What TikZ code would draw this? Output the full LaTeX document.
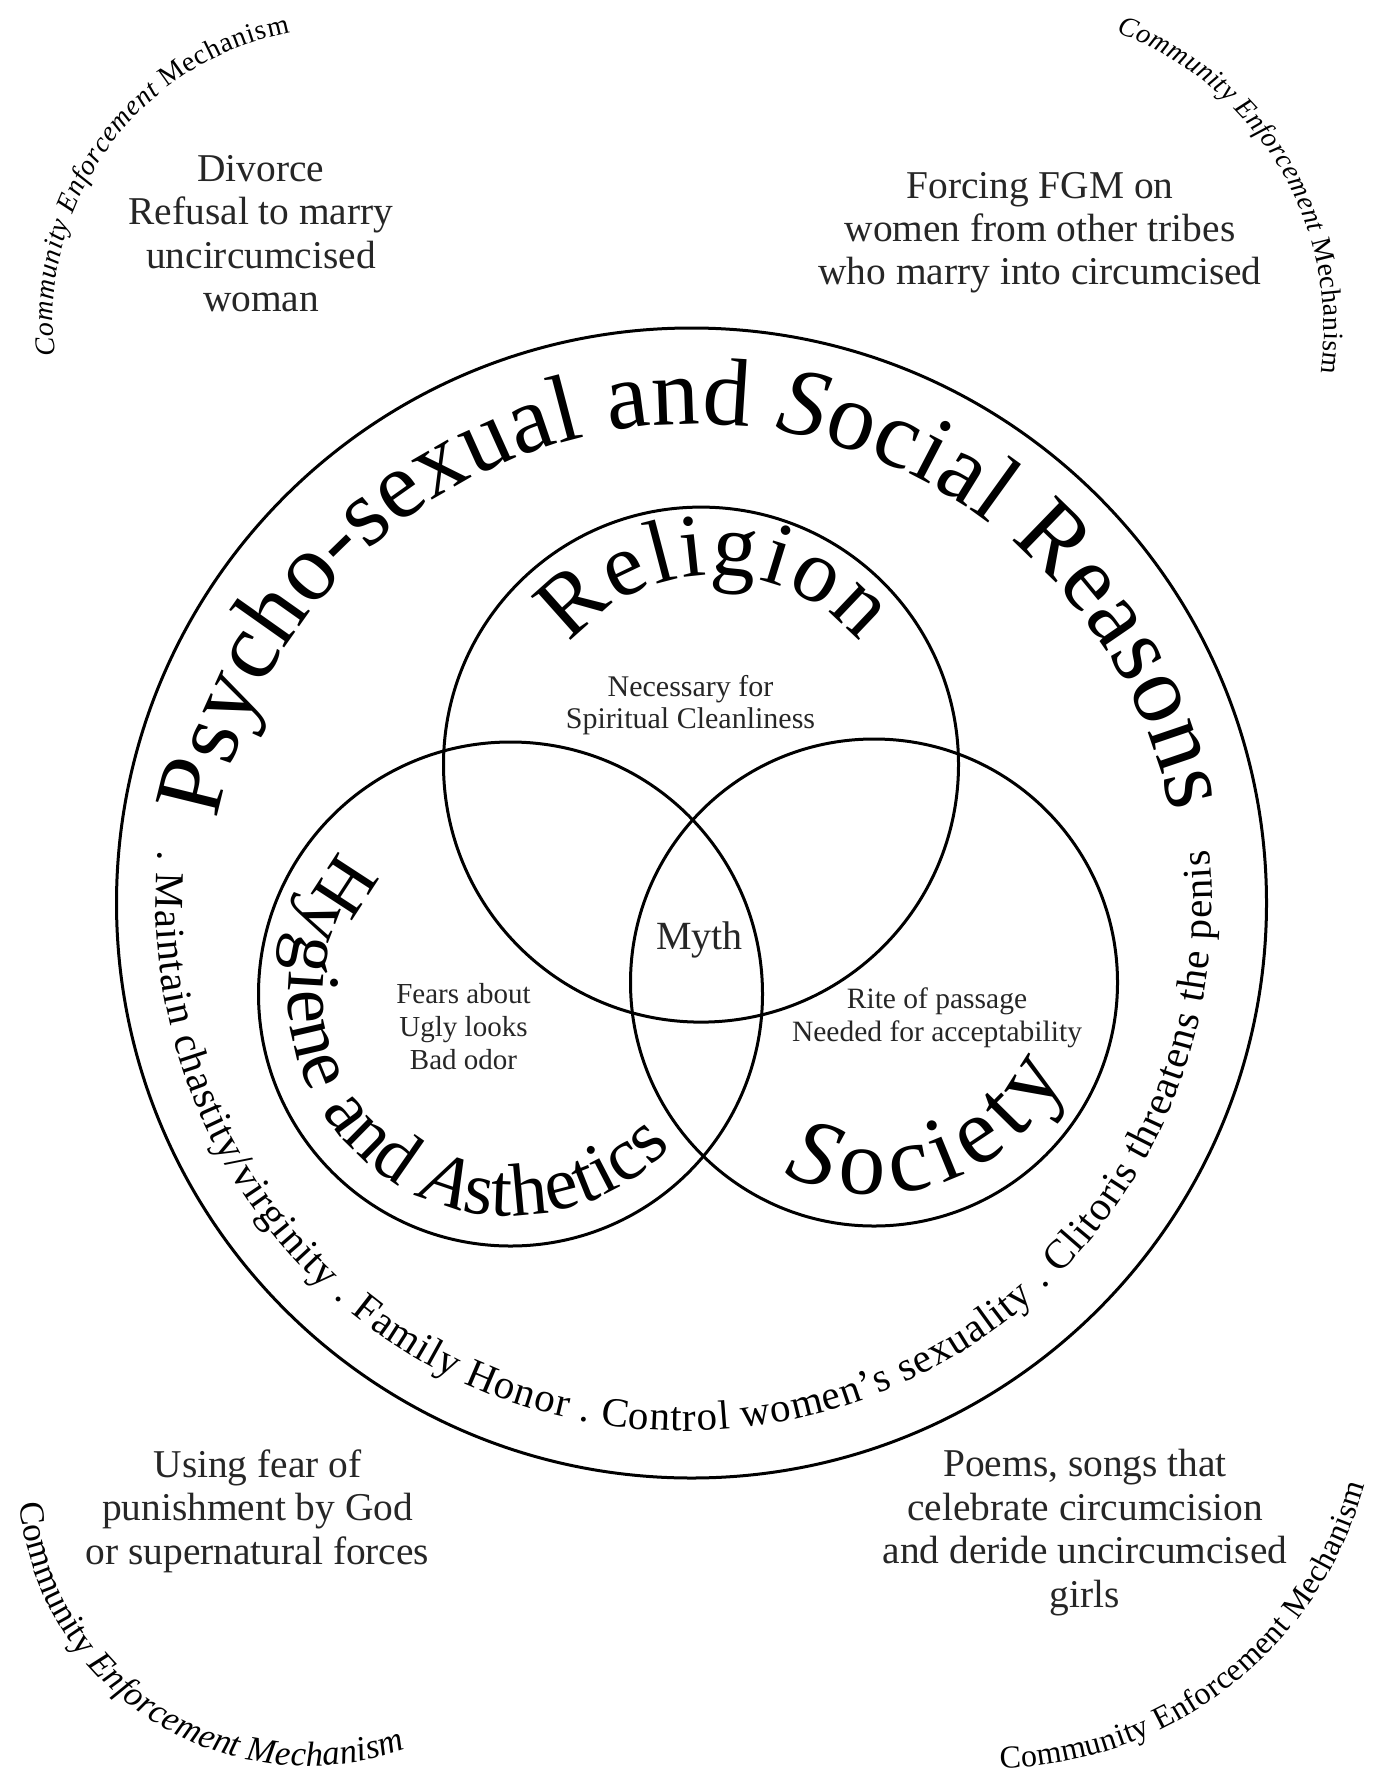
\documentclass[tikz,border=0pt]{standalone}
\usepackage{fontspec}
\setmainfont{Liberation Serif}
\usetikzlibrary{decorations.text}
\newcommand\fPsy{\fontsize{48pt}{48pt}\selectfont\upshape}
\newcommand\fPsyI{\fontsize{48pt}{48pt}\selectfont\itshape}
\newcommand\fRel{\fontsize{45pt}{45pt}\selectfont\upshape}
\newcommand\fHyg{\fontsize{37.5pt}{37.5pt}\selectfont\upshape}
\newcommand\fHygI{\fontsize{37.5pt}{37.5pt}\selectfont\itshape}
\newcommand\fSoc{\fontsize{47pt}{47pt}\selectfont\upshape}
\newcommand\fSocI{\fontsize{47pt}{47pt}\selectfont\itshape}
\newcommand\fBot{\fontsize{20.5pt}{20.5pt}\selectfont\upshape}
\newcommand\fCemU{\fontsize{14pt}{14pt}\selectfont\upshape}
\newcommand\fCemI{\fontsize{14pt}{14pt}\selectfont\itshape}
\newcommand\fCbU{\fontsize{17.5pt}{17.5pt}\selectfont\upshape}
\newcommand\fCbI{\fontsize{17.5pt}{17.5pt}\selectfont\itshape}
\newcommand\fCrU{\fontsize{16pt}{16pt}\selectfont\upshape}
\begin{document}
\begin{tikzpicture}[x=0.5pt,y=0.5pt]
\tikzset{
  ring/.style={draw=black, line width=1.5pt},
  corner/.style={align=center, anchor=base, inner sep=0pt, text=black!85,
    font=\fontsize{19.7pt}{21.7pt}\selectfont},
  label/.style={align=center, anchor=base, inner sep=0pt, text=black!85},
}
\fill[white] (0,0) rectangle (1375,-1776);
\useasboundingbox (0,0) rectangle (1375,-1776);

% centres
\coordinate (cOuter) at (691.5,-903);
\coordinate (cRel) at (701,-764.6);
\coordinate (cHyg) at (510.5,-994);
\coordinate (cSoc) at (874,-982.5);

% circles
\draw[ring] (cOuter) circle[radius=575];
\draw[ring] (cRel) circle[radius=257.5];
\draw[ring] (cHyg) circle[radius=252];
\draw[ring] (cSoc) circle[radius=243.5];

% curved big title
\coordinate (aPsy) at (695,-910);
\path[decorate, decoration={text along path, text align={fit to path},
  text={|\fPsy|Psycho-sexual and |\fPsyI|S|\fPsy|ocial Reasons}}]
  (aPsy) ++(169.3:486) arc[start angle=169.3, end angle=11.5, radius=486];

% bottom reasons
\coordinate (aBot) at (684,-903);
\path[decorate, decoration={text along path, text align={fit to path},
  text={|\fBot|. Maintain chastity/virginity . Family Honor . Control women's sexuality . Clitoris threatens the penis}}]
  (aBot) ++(174.25:528) arc[start angle=174.25, end angle=365.75, radius=528];

% Religion
\coordinate (aRel) at (715,-762);
\path[decorate, decoration={text along path, text align={fit to path},
  text={|\fRel|Religion}}]
  (aRel) ++(140.9:187) arc[start angle=140.9, end angle=39.6, radius=187];

% Hygiene
\path[decorate, decoration={text along path, text align={fit to path},
  text={|\fHyg|Hygiene and |\fHygI|A|\fHyg|sthetics}}]
  (cHyg) ++(140:222) arc[start angle=140, end angle=316.5, radius=222];

% Society
\path[decorate, decoration={text along path, text align={fit to path},
  text={|\fSocI|S|\fSoc|ociety}}]
  (cSoc) ++(245:212) arc[start angle=245, end angle=334, radius=212];

% Community Enforcement Mechanism arcs
\coordinate (aTL) at (346,-320);
\path[decorate, decoration={text along path, text align={fit to path},
  text={|\fCemI|Community Enforcement |\fCemU|Mechanism}}]
  (aTL) ++(187:293) arc[start angle=187, end angle=101, radius=293];
\coordinate (aTR) at (1009,-329);
\path[decorate, decoration={text along path, text align={fit to path},
  text={|\fCemI|Community Enforcement |\fCemU|Mechanism}}]
  (aTR) ++(70:315) arc[start angle=70, end angle=-8, radius=315];
\coordinate (aBL) at (307,-1478);
\path[decorate, decoration={text along path, text align={fit to path},
  text={|\fCbU|Community |\fCbI|Enforcement Mechanism}}]
  (aBL) ++(185:288) arc[start angle=185, end angle=290, radius=288];
\coordinate (aBR) at (993.5,-1383);
\path[decorate, decoration={text along path, text align={fit to path},
  text={|\fCrU|Community Enforcement Mechanism}}]
  (aBR) ++(271:385) arc[start angle=271, end angle=344.6, radius=385];

% corner blocks (anchored at the baseline of the last line)
\node[corner] (tl) at (261,-311.7) {Divorce\\Refusal to marry\\uncircumcised\\woman};
\node[corner] (tr) at (1040,-285) {Forcing FGM on\\women from other tribes\\who marry into circumcised};
\node[corner] (bl) at (257.5,-1564) {Using fear of\\punishment by God\\or supernatural forces};
\node[corner] (br) at (1085,-1607) {Poems, songs that\\celebrate circumcision\\and deride uncircumcised\\girls};

% inner labels
\node[label, font=\fontsize{15pt}{16pt}\selectfont] (nec) at (690.5,-728) {Necessary for\\Spiritual Cleanliness};
\node[label, font=\fontsize{20pt}{22pt}\selectfont] (myth) at (699.6,-949.6) {Myth};
\node[label, font=\fontsize{14.5pt}{16.5pt}\selectfont] (fears) at (463.5,-1069) {Fears about\\Ugly looks\\Bad odor};
\node[label, font=\fontsize{14.75pt}{16.8pt}\selectfont] (rite) at (937,-1041.7) {Rite of passage\\Needed for acceptability};
\end{tikzpicture}
\end{document}
